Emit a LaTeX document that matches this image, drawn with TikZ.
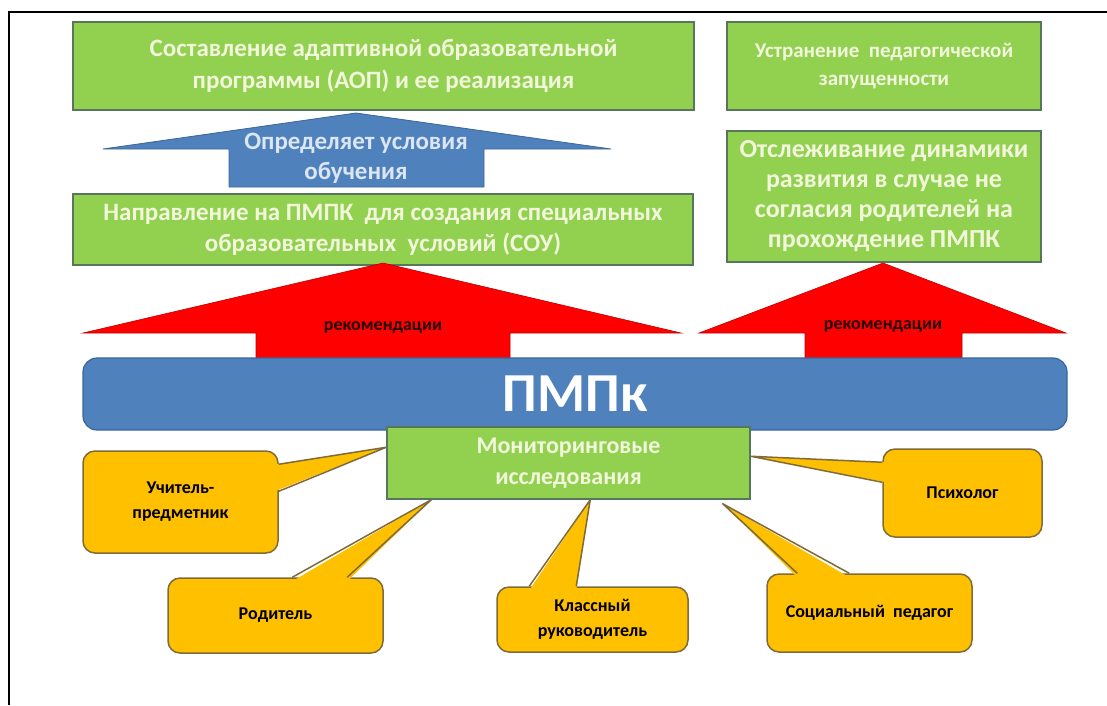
\documentclass[tikz,border=0pt]{standalone}
\usepackage{fontspec}
\setmainfont{Carlito}
\newfontfamily\callfont{Carlito}
\usetikzlibrary{calc}
\definecolor{gfill}{HTML}{92D050}
\definecolor{gline}{HTML}{58765C}
\definecolor{gtext}{HTML}{F2F7DC}
\definecolor{bfill}{HTML}{4F81BD}
\definecolor{bline}{HTML}{3B6699}
\definecolor{btext}{HTML}{DCE6F2}
\definecolor{rfill}{HTML}{FF0000}
\definecolor{rline}{HTML}{C00000}
\definecolor{ofill}{HTML}{FFC000}
\definecolor{oline}{HTML}{7F6A3A}
\begin{document}
\begin{tikzpicture}[x=1pt,y=-1pt,
  gbox/.style={draw=gline, line width=1.5pt, fill=gfill, text=gtext, align=center, inner sep=0pt},
  callbox/.style={draw=oline, line width=1.5pt, fill=ofill, rounded corners=12pt, align=center, inner sep=0pt,
     font=\callfont\fontsize{18}{25}\selectfont\bfseries, text=black},
  tailfill/.style={fill=ofill},
  tailline/.style={draw=oline, line width=1.5pt, line join=round},
  redarrow/.style={fill=rfill, draw=rline, line width=0.6pt},
  bluearrow/.style={fill=bfill, draw=bline, line width=0.8pt},
  reklabel/.style={text=black!85!red, font=\fontsize{18}{20}\selectfont\bfseries},
  frame/.style={line width=2.5pt, draw=black}
]
\useasboundingbox (0,0) rectangle (1107,705);
\draw[frame] (9,705) -- (9,12) -- (1107,12);

% top row
\node[gbox, minimum width=621pt, minimum height=88pt, font=\fontsize{25}{32}\selectfont\bfseries] (aop) at (383.5,66)
  {Составление адаптивной образовательной\\программы (АОП) и ее реализация};
\node[gbox, minimum width=314pt, minimum height=88pt, font=\fontsize{21}{28}\selectfont\bfseries] (ustr) at (884,66)
  {Устранение\ \ педагогической\\запущенности};

% blue arrow
\draw[bluearrow] (229,187) -- (229,149) -- (103,149) -- (356,113) -- (611,149) -- (484,149) -- (484,187) -- cycle;
\node[text=btext, align=center, font=\fontsize{25}{30}\selectfont\bfseries] (opr) at (356,158)
  {Определяет условия\\обучения};

% second row
\node[gbox, minimum width=620pt, minimum height=71pt, font=\fontsize{25}{31}\selectfont\bfseries] (napr) at (383,229.5)
  {Направление на ПМПК\ \ для создания специальных\\образовательных\ \ условий (СОУ)};
\node[gbox, minimum width=314pt, minimum height=131pt, font=\fontsize{26}{30}\selectfont\bfseries] (otsl) at (884,196.5)
  {Отслеживание динамики\\развития в случае не\\согласия родителей на\\прохождение ПМПК};

% red arrows
\draw[redarrow] (256,360) -- (256,333) -- (83,333) -- (383,263) -- (681,333) -- (510,333) -- (510,360) -- cycle;
\draw[redarrow] (805,360) -- (805,333) -- (699,333) -- (883,263) -- (1066,333) -- (962,333) -- (962,360) -- cycle;
\node[reklabel] (rek1) at (383,327) {рекомендации};
\node[reklabel] (rek2) at (883,326) {рекомендации};

% PMPk bar
\node[draw=bline, line width=1.2pt, fill=bfill, rounded corners=14pt, minimum width=984pt, minimum height=72pt,
  text=white, font=\fontsize{55}{60}\selectfont\bfseries, inner sep=0pt] (pmpk) at (575,394) {ПМПк};

% callouts
\node[callbox, minimum width=195pt, minimum height=102pt] (uch) at (180.5,502) {Учитель-\\предметник};
\node[callbox, minimum width=215pt, minimum height=75pt] (rod) at (275.5,615.5) {Родитель};
\node[callbox, minimum width=191pt, minimum height=65pt] (kl) at (592.5,619.5) {Классный\\руководитель};
\node[callbox, minimum width=205pt, minimum height=78pt] (soc) at (869.5,613) {Социальный\ \ педагог};
\node[callbox, minimum width=159pt, minimum height=88pt] (psy) at (962.5,493) {Психолог};

% monitoring box (position used by tails)
\node[gbox, minimum width=363pt, minimum height=72pt, font=\fontsize{24}{31}\selectfont\bfseries] (mon) at (568.5,463)
  {Мониторинговые\\исследования};

% tail coordinates
\coordinate (uchT) at ($(mon.north west)+(0,21)$);
\coordinate (rodT) at ($(mon.south west)+(45,0)$);
\coordinate (klT)  at ($(mon.south west)+(204,0)$);
\coordinate (socT) at ($(mon.south east)+(-28,4)$);
\coordinate (psyT) at ($(mon.north east)+(0,30)$);

\fill[tailfill] ($(uch.north east)+(-4,14)$) -- (uchT) -- ($(uch.north east)+(-4,41)$) -- cycle;
\draw[tailline] ($(uch.north east)+(0,14)$) -- (uchT) -- ($(uch.north east)+(0,41)$);
\fill[tailfill] ($(rod.north west)+(125,4)$) -- (rodT) -- ($(rod.north west)+(180,4)$) -- cycle;
\draw[tailline] ($(rod.north west)+(125,0)$) -- (rodT) -- ($(rod.north west)+(180,0)$);
\fill[tailfill] ($(kl.north west)+(33,4)$) -- (klT) -- ($(kl.north west)+(80,4)$) -- cycle;
\draw[tailline] ($(kl.north west)+(33,0)$) -- (klT) -- ($(kl.north west)+(80,0)$);
\fill[tailfill] ($(soc.north west)+(31,4)$) -- (socT) -- ($(soc.north west)+(83,4)$) -- cycle;
\draw[tailline] ($(soc.north west)+(31,0)$) -- (socT) -- ($(soc.north west)+(83,0)$);
\fill[tailfill] ($(psy.north west)+(4,14)$) -- (psyT) -- ($(psy.north west)+(4,34)$) -- cycle;
\draw[tailline] ($(psy.north west)+(0,14)$) -- (psyT) -- ($(psy.north west)+(0,34)$);

% redraw monitoring box on top of tail tips
\node[gbox, minimum width=363pt, minimum height=72pt, font=\fontsize{24}{31}\selectfont\bfseries] at (mon.center)
  {Мониторинговые\\исследования};
\end{tikzpicture}
\end{document}
